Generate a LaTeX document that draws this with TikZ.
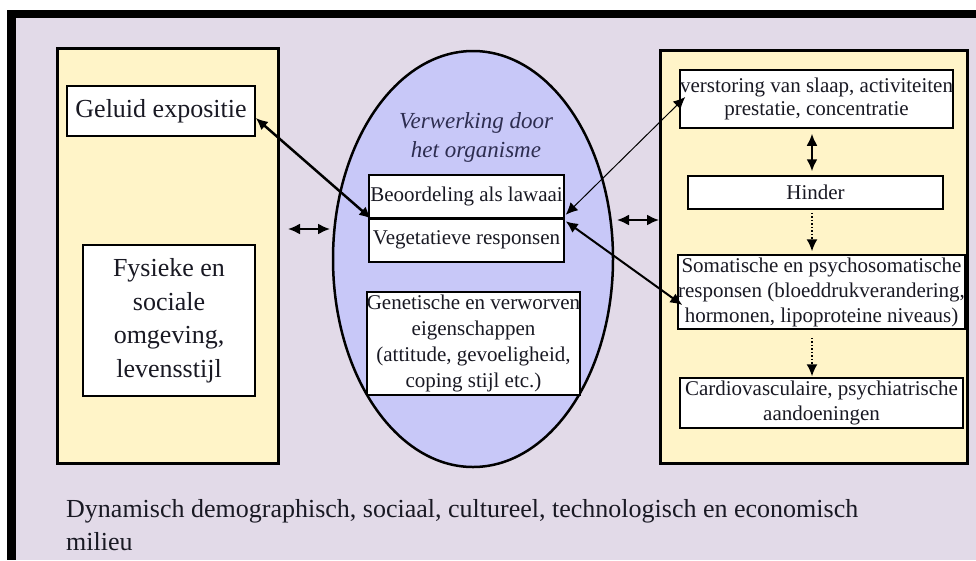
\documentclass[tikz,border=0pt]{standalone}
\usepackage{fontspec}
\setmainfont{Liberation Serif}
\usetikzlibrary{arrows.meta,shapes.geometric}
\definecolor{bgl}{RGB}{226,218,232}
\definecolor{pyel}{RGB}{255,244,200}
\definecolor{ellc}{RGB}{200,200,248}
\definecolor{ttl}{RGB}{45,45,80}
\definecolor{txt}{RGB}{25,25,35}
\begin{document}
\begin{tikzpicture}[x=1pt,y=-1pt,
  panel/.style={draw=black,line width=3pt,fill=pyel,inner sep=0pt},
  wbox/.style={draw=black,line width=1.5pt,fill=white,inner sep=0pt,align=center,text=txt,font=\fontsize{21}{25}\selectfont},
  bigbox/.style={wbox,font=\fontsize{26}{33.5}\selectfont},
  dbl/.style={{Latex[length=12pt,width=11pt]}-{Latex[length=12pt,width=11pt]},line width=2.5pt},
  thin/.style={{Latex[length=12pt,width=11pt]}-{Latex[length=12pt,width=11pt]},line width=1pt},
  dots/.style={-{Latex[length=12pt,width=11pt]},line width=1.5pt,dotted}]
\useasboundingbox (0,0) rectangle (976,560);
\fill[white] (0,0) rectangle (976,560);
\fill[black] (7,10) rectangle (976,18);
\fill[black] (7,10) rectangle (16,560);
\fill[bgl] (16,18) rectangle (976,560);

% left panel
\node[panel,minimum width=221pt,minimum height=415pt] (lp) at (167.5,255.5) {};
\node[bigbox,minimum width=188pt,minimum height=50pt] (geluid) at (161,111) {Geluid expositie};
\node[bigbox,minimum width=172pt,minimum height=151pt] (fys) at (169,320.5) {Fysieke en\\sociale\\omgeving,\\levensstijl};

% ellipse
\node[ellipse,draw=black,line width=2.5pt,fill=ellc,minimum width=280pt,minimum height=416pt,inner sep=0pt] (el) at (473,259) {};
\node[align=center,text=ttl,font=\fontsize{23}{29}\selectfont\itshape] (title) at (476,137.5) {Verwerking door\\het organisme};
\node[wbox,minimum width=195pt,minimum height=43pt] (beoor) at (466.5,196.5) {Beoordeling als lawaai};
\node[wbox,minimum width=195pt,minimum height=44pt] (veget) at (466.5,240) {Vegetatieve responsen};
\draw[line width=3pt] (beoor.south west) -- (beoor.south east);
\node[wbox,minimum width=209pt,minimum height=103pt,font=\fontsize{21}{25.7}\selectfont] (gen) at (473.5,343.5) {Genetische en verworven\\eigenschappen\\(attitude, gevoeligheid,\\coping stijl etc.)};

% right panel
\node[panel,minimum width=307pt,minimum height=413pt] (rp) at (813.5,256.5) {};
\node[wbox,minimum width=273pt,minimum height=58pt,font=\fontsize{21}{23}\selectfont] (verst) at (816.5,99) {verstoring van slaap, activiteiten\\prestatie, concentratie};
\node[wbox,minimum width=255pt,minimum height=33pt] (hinder) at (815.5,192.5) {Hinder};
\node[wbox,minimum width=283pt,minimum height=74pt] (somat) at (821.5,292) {Somatische en psychosomatische\\responsen (bloeddrukverandering,\\hormonen, lipoproteine niveaus)};
\node[wbox,minimum width=283pt,minimum height=50pt] (cardio) at (821.5,403) {Cardiovasculaire, psychiatrische\\aandoeningen};

% bottom text
\node[anchor=base west,inner sep=0pt,text=txt,font=\fontsize{26}{33}\selectfont] (bt1) at (66,517) {Dynamisch demographisch, sociaal, cultureel, technologisch en economisch};
\node[anchor=base west,inner sep=0pt,text=txt,font=\fontsize{26}{33}\selectfont] (bt2) at (66,550) {milieu};

% connectors
\coordinate (la1) at (288,229);
\coordinate (la2) at (330,229);
\coordinate (ra1) at (617,220);
\coordinate (ra2) at (659,220);
\draw[dbl,line width=2pt] (la1) -- (la2);
\draw[dbl,line width=2pt] (ra1) -- (ra2);
\draw[dbl] ([yshift=-7pt]geluid.east) -- ([xshift=3pt]beoor.south west);
\draw[thin] ([xshift=6pt,yshift=2pt]verst.west) -- ([xshift=1pt,yshift=4pt]beoor.south east);
\draw[dbl,line width=2pt] ([xshift=1pt,yshift=-4pt]veget.north east) -- ([xshift=5pt,yshift=-13pt]somat.west);
\draw[dbl,line width=2pt] ([xshift=-4.5pt,yshift=-5pt]verst.south) -- ([xshift=-3.5pt,yshift=4pt]hinder.north);
\draw[dots] ([xshift=-3.5pt,yshift=-3pt]hinder.south) -- ([xshift=-9.5pt,yshift=3pt]somat.north);
\draw[dots] ([xshift=-9.5pt,yshift=-8pt]somat.south) -- ([xshift=-9.5pt,yshift=1pt]cardio.north);
\end{tikzpicture}
\end{document}
